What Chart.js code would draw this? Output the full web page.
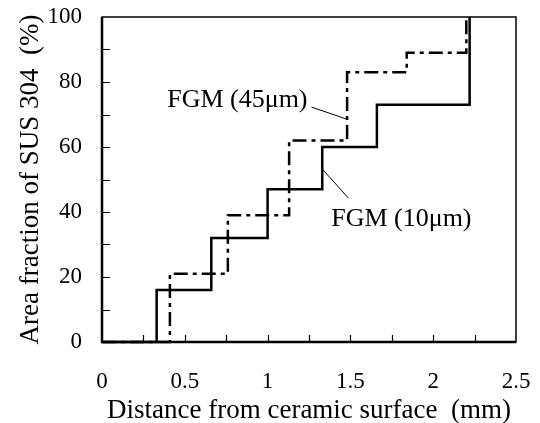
<!DOCTYPE html>
<html>
<head>
<meta charset="utf-8">
<script src="https://cdn.jsdelivr.net/npm/chart.js@4/dist/chart.umd.min.js"></script>
<style>
  html, body { margin: 0; padding: 0; background: #fff; }
  #wrap { width: 540px; height: 423px; }
</style>
</head>
<body>
<div id="wrap"><canvas id="chart" width="540" height="423"></canvas></div>
<script>
// Data
const fineX = [0, 0.33, 0.66, 1.0, 1.33, 1.66, 2.22];
const fineY = [0, 16, 32, 47, 60, 73, 100];
const coarseX = [0, 0.41, 0.76, 1.13, 1.48, 1.84, 2.2];
const coarseY = [0, 21, 39, 62, 83, 89, 100];
const xMinorTicks = [0.25, 0.5, 0.75, 1, 1.25, 1.5, 1.75, 2, 2.25];
const yMinorTicks = [10, 20, 30, 40, 50, 60, 70, 80, 90];

// Callouts (data coordinates, text anchored at baseline)
const labels = [
  { text: 'FGM (45\u03bcm)', x: 1.241, y: 72.3, align: 'right', line: [[1.265, 72.3], [1.476, 68.6]] },
  { text: 'FGM (10\u03bcm)', x: 1.384, y: 35.7, align: 'left', line: [[1.325, 53.5], [1.488, 44.3]] }
];

const serif = '"Liberation Serif", "DejaVu Serif", serif';

const toPoints = (xs, ys) => xs.map((x, i) => ({ x: x, y: ys[i] }));

const frame = {
  id: 'frame',
  afterDatasetsDraw(chart) {
    const { ctx, chartArea: a, scales: { x, y } } = chart;
    ctx.save();
    ctx.strokeStyle = '#000';
    // inward ticks
    ctx.lineWidth = 1.2;
    ctx.beginPath();
    xMinorTicks.forEach(v => {
      const px = Math.round(x.getPixelForValue(v)) + 0.5;
      ctx.moveTo(px, a.bottom);
      ctx.lineTo(px, a.bottom - 7);
    });
    yMinorTicks.forEach(v => {
      const py = Math.round(y.getPixelForValue(v)) + 0.5;
      ctx.moveTo(a.left, py);
      ctx.lineTo(a.left + 8, py);
    });
    ctx.stroke();
    // box
    ctx.lineWidth = 1.5;
    ctx.strokeRect(a.left, a.top, a.right - a.left, a.bottom - a.top);
    ctx.lineWidth = 2.5;
    ctx.beginPath();
    ctx.moveTo(a.left, a.top);
    ctx.lineTo(a.left, a.bottom);
    ctx.lineTo(a.right, a.bottom);
    ctx.stroke();
    // callouts
    ctx.font = '26px ' + serif;
    ctx.fillStyle = '#000';
    ctx.textBaseline = 'alphabetic';
    ctx.lineWidth = 1;
    labels.forEach(l => {
      ctx.textAlign = l.align;
      ctx.fillText(l.text, x.getPixelForValue(l.x), y.getPixelForValue(l.y));
      ctx.beginPath();
      ctx.moveTo(x.getPixelForValue(l.line[0][0]), y.getPixelForValue(l.line[0][1]));
      ctx.lineTo(x.getPixelForValue(l.line[1][0]), y.getPixelForValue(l.line[1][1]));
      ctx.stroke();
    });
    ctx.restore();
  }
};

new Chart(document.getElementById('chart'), {
  type: 'line',
  data: {
    datasets: [
      {
        label: 'FGM (10\u03bcm)',
        data: toPoints(fineX, fineY),
        stepped: 'before',
        borderColor: '#000',
        borderWidth: 2.5,
        pointRadius: 0,
        fill: false,
        clip: false
      },
      {
        label: 'FGM (45\u03bcm)',
        data: toPoints(coarseX, coarseY),
        stepped: 'before',
        borderColor: '#000',
        borderWidth: 2.5,
        borderDash: [14, 5, 4, 5],
        pointRadius: 0,
        fill: false,
        clip: false
      }
    ]
  },
  options: {
    responsive: false,
    animation: false,
    devicePixelRatio: 1,
    layout: { padding: { top: 17, right: 24, left: 0, bottom: 0 } },
    plugins: { legend: { display: false }, tooltip: { enabled: false } },
    scales: {
      x: {
        type: 'linear',
        min: 0,
        max: 2.5,
        afterFit(s) { s.height = 81; s.paddingLeft = 0; s.paddingRight = 0; },
        border: { display: false },
        grid: { display: false, drawTicks: false },
        ticks: {
          stepSize: 0.5,
          padding: 26,
          color: '#000',
          font: { family: serif, size: 23 },
          maxRotation: 0,
          callback: v => String(v)
        },
        title: {
          display: true,
          text: 'Distance from ceramic surface  (mm)',
          color: '#000',
          font: { family: serif, size: 27, lineHeight: 0.9 },
          padding: { top: 0, bottom: 0 }
        }
      },
      y: {
        min: 0,
        max: 100,
        afterFit(s) { s.width = 102; s.paddingTop = 0; s.paddingBottom = 0; },
        border: { display: false },
        grid: { display: false, drawTicks: false },
        ticks: {
          stepSize: 20,
          padding: 20,
          color: '#000',
          font: { family: serif, size: 23 }
        },
        title: {
          display: true,
          text: 'Area fraction of SUS 304  (%)',
          color: '#000',
          font: { family: serif, size: 27, lineHeight: 0.9 },
          padding: { top: 19, bottom: 0 }
        }
      }
    }
  },
  plugins: [frame]
});
</script>
</body>
</html>
